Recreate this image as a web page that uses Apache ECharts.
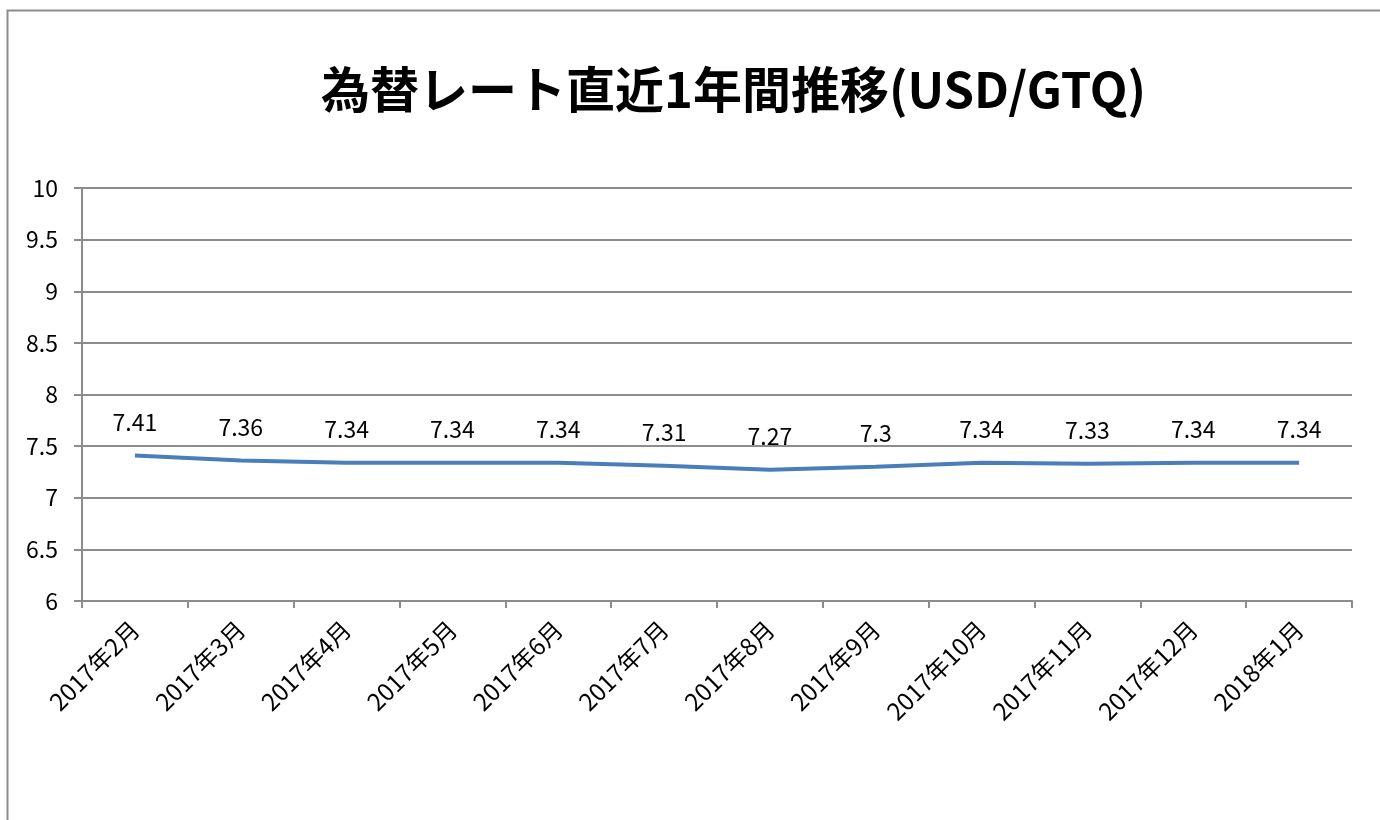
<!DOCTYPE html>
<html><head><meta charset="utf-8">
<script src="https://cdn.jsdelivr.net/npm/echarts@6/dist/echarts.min.js"></script>
<style>html,body{margin:0;padding:0;background:#fff}#c{width:1380px;height:820px}</style>
</head><body><div id="c"></div>
<script>
const categories = ['2017年2月','2017年3月','2017年4月','2017年5月','2017年6月','2017年7月','2017年8月','2017年9月','2017年10月','2017年11月','2017年12月','2018年1月'];
const rates = [7.41,7.36,7.34,7.34,7.34,7.31,7.27,7.3,7.34,7.33,7.34,7.34];
const titleText = '為替レート直近1年間推移(USD/GTQ)';
const font = '"Noto Sans CJK JP","Noto Sans",sans-serif';
const chart = echarts.init(document.getElementById('c'));
chart.setOption({
  animation: false,
  backgroundColor: '#fff',
  graphic: [{type:'rect', shape:{x:7.5,y:10.5,width:1400,height:840}, style:{fill:'none', stroke:'#8c8c8c', lineWidth:2}, z:-1}],
  title: {text: titleText, left: 316, top: 60, textStyle:{fontFamily:font, fontSize:49, fontWeight:'bold', color:'#000'}},
  grid: {left: 82, right: 28, top: 188, bottom: 219, containLabel:false},
  xAxis: {type:'category', data: categories, boundaryGap:true,
    axisLine:{lineStyle:{color:'#8c8c8c', width:2}},
    axisTick:{show:true, length:7, lineStyle:{color:'#8c8c8c', width:2}},
    axisLabel:{rotate:45, fontFamily:font, fontSize:24, color:'#000', margin:24, interval:0}},
  yAxis: {type:'value', min:6, max:10, interval:0.5,
    axisLine:{show:true, lineStyle:{color:'#8c8c8c', width:2}},
    axisTick:{show:true, length:8, lineStyle:{color:'#8c8c8c', width:2}},
    splitLine:{lineStyle:{color:'#8c8c8c', width:2}},
    axisLabel:{fontFamily:font, fontSize:23, color:'#000', margin:24}},
  series: [{type:'line', data: rates, symbol:'circle', symbolSize:0, showSymbol:true,
    itemStyle:{color:'#4a7ebb'},
    lineStyle:{color:'#4a7ebb', width:4},
    label:{show:true, position:'top', distance:22, fontFamily:font, fontSize:23, color:'#000'}}]
});
</script></body></html>
